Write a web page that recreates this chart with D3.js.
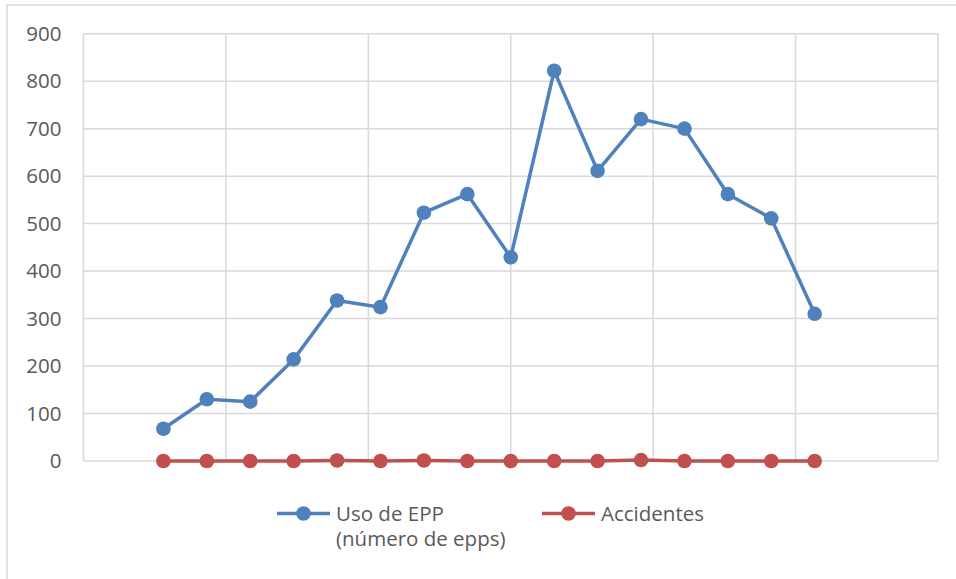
<!DOCTYPE html>
<html>
<head>
<meta charset="utf-8">
<script src="https://cdn.jsdelivr.net/npm/d3@7"></script>
<style>
  html, body { margin: 0; padding: 0; background: #fff; }
  svg { display: block; font-family: "Open Sans", "Liberation Sans", sans-serif; }
</style>
</head>
<body>
<svg id="chart" width="956" height="579"></svg>
<script>
// Monthly periods (sequential index) and the two series
const periods = d3.range(1, 17);
const usoEPP = [68, 130, 125, 214, 338, 324, 523, 562, 429, 822, 611, 720, 700, 562, 511, 310];
const accidentes = [0, 0, 0, 0, 1, 0, 1, 0, 0, 0, 0, 2, 0, 0, 0, 0];
const yTicks = [0, 100, 200, 300, 400, 500, 600, 700, 800, 900];
const seriesNames = [["Uso de EPP", "(número de epps)"], ["Accidentes"]];
const seriesColors = ["#4f81bd", "#c0504d"];

const svg = d3.select("#chart");
const plot = { left: 83.5, right: 938, top: 33.7, bottom: 461 };

// Chart-area border (open toward the right and bottom edges)
svg.append("rect")
  .attr("x", 7).attr("y", 5)
  .attr("width", 1200).attr("height", 1200)
  .attr("fill", "none").attr("stroke", "#d9d9d9").attr("stroke-width", 1.5);

const x = d3.scaleLinear().domain([-0.84, 18.84]).range([plot.left, plot.right]);
const y = d3.scaleLinear().domain([0, 900]).range([plot.bottom, plot.top]);

// Vertical gridlines: six equal major units across the x range
const xd = x.domain();
const xGrid = d3.range(7).map(i => xd[0] + i * (xd[1] - xd[0]) / 6);
svg.append("g").selectAll("line").data(xGrid).join("line")
  .attr("x1", d => x(d)).attr("x2", d => x(d))
  .attr("y1", plot.top).attr("y2", plot.bottom)
  .attr("stroke", "#d9d9d9").attr("stroke-width", 1.5);

// Horizontal gridlines
svg.append("g").selectAll("line").data(yTicks).join("line")
  .attr("x1", plot.left).attr("x2", plot.right)
  .attr("y1", d => y(d)).attr("y2", d => y(d))
  .attr("stroke", "#d9d9d9").attr("stroke-width", 1.5);

// Y axis labels
const yAxis = d3.axisLeft(y).tickValues(yTicks).tickSize(0).tickPadding(22);
const gy = svg.append("g").attr("transform", `translate(${plot.left},0)`).call(yAxis);
gy.select(".domain").remove();
gy.selectAll("text")
  .attr("fill", "#595959")
  .style("font-size", "20.5px")
  .style("font-family", "\"Open Sans\", sans-serif");

// Series lines and markers
const line = d3.line().x((d, i) => x(periods[i])).y(d => y(d));
[usoEPP, accidentes].forEach((vals, s) => {
  const g = svg.append("g");
  g.append("path").datum(vals)
    .attr("d", line)
    .attr("fill", "none")
    .attr("stroke", seriesColors[s])
    .attr("stroke-width", 3.5)
    .attr("stroke-linejoin", "round");
  g.selectAll("circle").data(vals).join("circle")
    .attr("cx", (d, i) => x(periods[i]))
    .attr("cy", d => y(d))
    .attr("r", 7.3)
    .attr("fill", seriesColors[s]);
});

// Legend
const legendX = [277, 542];
seriesNames.forEach((lines, s) => {
  const g = svg.append("g").attr("transform", `translate(${legendX[s]},513.5)`);
  g.append("line").attr("x1", 0).attr("x2", 53)
    .attr("stroke", seriesColors[s]).attr("stroke-width", 3.5);
  g.append("circle").attr("cx", 26.5).attr("cy", 0).attr("r", 7.3).attr("fill", seriesColors[s]);
  const t = g.append("text").attr("x", 59).attr("y", 7)
    .attr("fill", "#595959").style("font-size", "20.5px");
  lines.forEach((ln, k) => {
    t.append("tspan").attr("x", 59).attr("dy", k === 0 ? 0 : 25).text(ln);
  });
});
</script>
</body>
</html>
